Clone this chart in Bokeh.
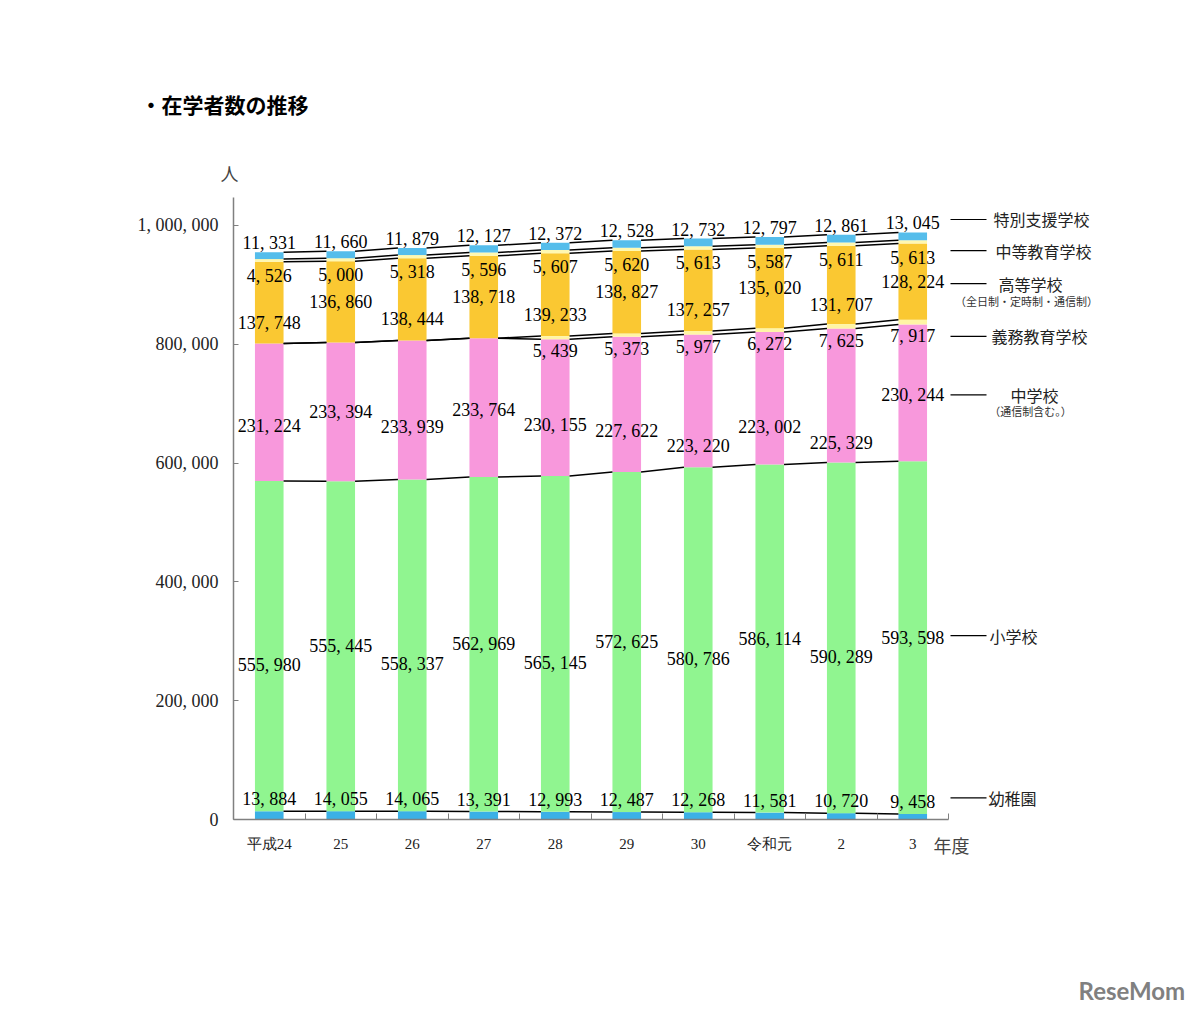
from bokeh.plotting import figure
from bokeh.models import ColumnDataSource, Range1d, FixedTicker, Label
from bokeh.core.properties import value
from bokeh.embed import file_html
from bokeh.resources import INLINE

# ---- data ----
years = ["平成24", "25", "26", "27", "28", "29", "30", "令和元", "2", "3"]
kinder = [13884, 14055, 14065, 13391, 12993, 12487, 12268, 11581, 10720, 9458]
elem = [555980, 555445, 558337, 562969, 565145, 572625, 580786, 586114, 590289, 593598]
junior = [231224, 233394, 233939, 233764, 230155, 227622, 223220, 223002, 225329, 230244]
compulsory = [0, 0, 0, 0, 5439, 5373, 5977, 6272, 7625, 7917]
high = [137748, 136860, 138444, 138718, 139233, 138827, 137257, 135020, 131707, 128224]
secondary = [4526, 5000, 5318, 5596, 5607, 5620, 5613, 5587, 5611, 5613]
special = [11331, 11660, 11879, 12127, 12372, 12528, 12732, 12797, 12861, 13045]

series_names = ["幼稚園", "小学校", "中学校", "義務教育学校", "高等学校", "中等教育学校", "特別支援学校"]
series_vals = [kinder, elem, junior, compulsory, high, secondary, special]
y_ticks = [0, 200000, 400000, 600000, 800000, 1000000]

# ---- style / layout ----
colors = ["#3BB0E6", "#90F590", "#F898DC", "#FFF5A5", "#FAC832", "#FFF8B0", "#55BDEB"]
Y_MAX = 1047000
W, H = 1185, 1010
AX_L, AX_R, AX_T, AX_B = 233, 948, 197, 819   # page pixels of the axes box
n = len(years)
UX = (AX_R - AX_L) / n          # pixels per category
K = Y_MAX / (AX_B - AX_T)       # data units per pixel
BAR_W = 0.4
NUM_FONT = "Liberation Serif"
JP_FONT = "Noto Sans CJK JP"

def fmt(v):
    return f"{v:,}".replace(",", ", ")

def xpx(px):  # page pixel -> data x
    return -0.5 + (px - AX_L) / UX

def ypx(py):  # page pixel -> data y
    return (AX_B - py) * K

xs = list(range(n))
src = ColumnDataSource(dict(x=xs, **{f"s{i}": v for i, v in enumerate(series_vals)}))

p = figure(width=W, height=H, min_border=0,
           x_range=Range1d(xpx(0), xpx(W)), y_range=Range1d(ypx(H), ypx(0)),
           output_backend="svg", toolbar_location=None)
p.outline_line_color = None
p.xgrid.visible = False
p.ygrid.visible = False
p.background_fill_color = "white"

p.vbar_stack([f"s{i}" for i in range(len(series_vals))], x="x", width=BAR_W,
             color=colors, line_color=None, source=src)

# cumulative bottoms / tops
cum = []
run = [0] * n
for vals in series_vals:
    bottoms = run[:]
    run = [a + b for a, b in zip(run, vals)]
    cum.append((bottoms, run[:]))

# series lines connecting segment tops
for bottoms, tops in cum:
    p.segment(x0=[i + BAR_W / 2 for i in range(n - 1)], y0=tops[:-1],
              x1=[i + 1 - BAR_W / 2 for i in range(n - 1)], y1=tops[1:],
              line_color="black", line_width=1.5)

# value labels: (y in data, y pixel offset)
alt = [1 if i % 2 == 0 else 0 for i in range(n)]
junior_shift = [14, 0, 17, 2, 17, 27, 45, 29, 47, 2]
label_specs = []
b, t = cum[0]
label_specs.append((t, [-12] * n, kinder))
b, t = cum[1]
label_specs.append(([(b[i] + t[i]) / 2 for i in range(n)], [19 * a for a in alt], elem))
b, t = cum[2]
label_specs.append(([(b[i] + t[i]) / 2 for i in range(n)], junior_shift, junior))
b, t = cum[3]
label_specs.append((b, [12] * n, compulsory))
b, t = cum[4]
label_specs.append(([(b[i] + t[i]) / 2 for i in range(n)], [20 * a for a in alt], high))
b, t = cum[4]
label_specs.append((t, [14] * n, secondary))
b, t = cum[6]
label_specs.append((t, [-9] * n, special))

last_label_y = []
for ys, offs, vals in label_specs:
    idx = [i for i in range(n) if vals[i] > 0]
    s = ColumnDataSource(dict(x=idx, y=[ys[i] for i in idx], off=[offs[i] for i in idx],
                              t=[fmt(vals[i]) for i in idx]))
    p.text(x="x", y="y", text="t", y_offset="off", source=s, text_align="center",
           text_baseline="middle", text_font=value(NUM_FONT), text_font_size="18px",
           text_color="black")
    last_label_y.append(ys[-1] - offs[-1] * K)

# axes (fixed inside the canvas)
xa = p.xaxis[0]
xa.fixed_location = 0
xa.bounds = (-0.5, n - 0.5)
xa.ticker = FixedTicker(ticks=xs, minor_ticks=[i - 0.5 for i in range(n + 1)])
xa.major_label_overrides = {i: years[i] for i in xs}
xa.major_tick_in = 0
xa.major_tick_out = 0
xa.minor_tick_in = 6
xa.minor_tick_out = 0
xa.minor_tick_line_color = "#808080"
xa.axis_line_color = "#808080"
xa.axis_line_width = 1.5
xa.major_label_text_font = NUM_FONT
xa.major_label_text_font_size = "15px"
xa.major_label_text_color = "#222222"
xa.major_label_standoff = 16

ya = p.yaxis[0]
ya.fixed_location = -0.5
ya.bounds = (0, Y_MAX)
ya.ticker = FixedTicker(ticks=y_ticks, minor_ticks=[])
ya.major_label_overrides = {v: fmt(v) for v in y_ticks}
ya.major_tick_in = 5
ya.major_tick_out = 0
ya.major_tick_line_color = "#808080"
ya.axis_line_color = "#808080"
ya.axis_line_width = 1.5
ya.major_label_text_font = NUM_FONT
ya.major_label_text_font_size = "18px"
ya.major_label_text_color = "#222222"
ya.major_label_standoff = 15

# right-hand series names (aligned with the last bar's labels, nudged in pixels)
text_x = {0: 988, 1: 989, 2: 1010, 3: 991, 4: 998, 5: 995, 6: 993}
nudge = {0: -4, 1: -2, 2: 0, 3: 0, 4: 2, 5: -7, 6: -4}
ry = [last_label_y[i] - nudge[i] * K for i in range(len(series_names))]
p.segment(x0=[xpx(950)] * len(ry), x1=[xpx(986)] * len(ry), y0=ry, y1=ry,
          line_color="black", line_width=1.2)
for si in range(len(series_names)):
    yy = ry[si]
    p.add_layout(Label(x=xpx(text_x[si]), y=yy, text=series_names[si], text_font=JP_FONT,
                       text_font_size="16px", text_baseline="middle", text_align="left",
                       text_color="#222222"))
    if si == 4:
        p.add_layout(Label(x=xpx(1026), y=yy - 17 * K, text="（全日制・定時制・通信制）",
                           text_font=JP_FONT, text_font_size="11px", text_baseline="middle",
                           text_align="center", text_color="#333333"))
    if si == 2:
        p.add_layout(Label(x=xpx(1030), y=yy - 16 * K, text="（通信制含む。）",
                           text_font=JP_FONT, text_font_size="11px", text_baseline="middle",
                           text_align="center", text_color="#333333"))

# titles / units
p.add_layout(Label(x=xpx(140), y=ypx(103), text="・在学者数の推移", text_font=JP_FONT,
                   text_font_size="21px", text_font_style="bold", text_baseline="middle",
                   text_color="black"))
p.add_layout(Label(x=xpx(229), y=ypx(172), text="人", text_font=JP_FONT,
                   text_font_size="18px", text_baseline="middle", text_align="center"))
p.add_layout(Label(x=xpx(933), y=ypx(844), text="年度", text_font=JP_FONT,
                   text_font_size="18px", text_baseline="middle", text_align="left"))
p.add_layout(Label(x=xpx(1078), y=ypx(990), text="ReseMom", text_font="Lato",
                   text_font_size="24px", text_font_style="bold", text_baseline="middle",
                   text_align="left", text_color="#808080"))

open("out.html", "w").write(file_html(p, INLINE))
